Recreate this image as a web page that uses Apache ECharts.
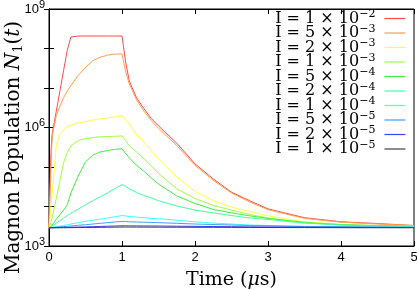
<!DOCTYPE html>
<html><head><meta charset="utf-8">
<script src="https://cdn.jsdelivr.net/npm/echarts@6/dist/echarts.min.js"></script>
<style>html,body{margin:0;padding:0;background:#fff}#c{width:417px;height:290px}</style>
</head><body><div id="c"></div><script>
const times = [0, 0.01, 0.02, 0.03, 0.04, 0.05, 0.1, 0.15, 0.2, 0.25, 0.3, 0.4, 0.5, 0.6, 0.7, 0.8, 0.9, 1.0, 1.05, 1.1, 1.2, 1.3, 1.4, 1.5, 1.75, 2.0, 2.25, 2.5, 2.75, 3.0, 3.5, 4.0, 4.5, 5.0];

const legendMantissa = [1, 5, 2, 1, 5, 2, 1, 5, 2, 1];
const legendExponent = ['−2', '−3', '−3', '−3', '−4', '−4', '−4', '−5', '−5', '−5'];
const colors = ['#ff4a4a', '#ffa04a', '#ffff40', '#a0ff40', '#40f040', '#40ffa0', '#40ffff', '#40a0ff', '#4040ff', '#404040'];

const popI1e2 = [2900, 2e4, 1e5, 3e5, 6e5, 8e5, 2.6e6, 8.5e6, 2.8e7, 9e7, 1.95e8, 2.07e8, 2.07e8, 2.07e8, 2.07e8, 2.07e8, 2.07e8, 2.07e8, 4.5e7, 1.5e7, 5.6e6, 3e6, 1.7e6, 1.1e6, 4e5, 1.2e5, 5e4, 2.3e4, 1.4e4, 8.7e3, 5.2e3, 4.1e3, 3.7e3, 3.3e3];
const popI5e3 = [2900, 1e4, 4e4, 1.5e5, 4e5, 7e5, 2e6, 3.5e6, 5.7e6, 8.3e6, 1.15e7, 2.1e7, 3.3e7, 4.9e7, 6e7, 6.8e7, 7.2e7, 7.3e7, 2.6e7, 1.26e7, 5e6, 2.6e6, 1.5e6, 9.5e5, 3.5e5, 1.1e5, 4.6e4, 2.2e4, 1.3e4, 8.3e3, 5e3, 4e3, 3.6e3, 3.3e3];
const popI2e3 = [2900, 4.5e3, 7e3, 1.1e4, 1.8e4, 2.8e4, 3.5e5, 6.8e5, 8.8e5, 1.05e6, 1.15e6, 1.3e6, 1.4e6, 1.55e6, 1.65e6, 1.75e6, 1.85e6, 2e6, 1.55e6, 1.2e6, 6.6e5, 4.3e5, 2.6e5, 1.6e5, 5.6e4, 2.4e4, 1.4e4, 9.6e3, 7.4e3, 5.8e3, 4.1e3, 3.5e3, 3.3e3, 3.2e3];
const popI1e3 = [2900, 3.2e3, 3.6e3, 4.2e3, 5e3, 6e3, 1.6e4, 4.5e4, 1.3e5, 2.3e5, 3.4e5, 4.7e5, 5.2e5, 5.6e5, 5.8e5, 5.9e5, 6e5, 6.1e5, 4.6e5, 3.4e5, 2.4e5, 1.6e5, 1.07e5, 6.9e4, 2.8e4, 1.6e4, 1.06e4, 8.1e3, 6.3e3, 5.1e3, 4e3, 3.5e3, 3.3e3, 3.2e3];
const popI5e4 = [2900, 2950, 3000, 3100, 3200, 3300, 4.8e3, 6.2e3, 8.1e3, 1.1e4, 2.2e4, 5.9e4, 1.35e5, 2e5, 2.4e5, 2.6e5, 2.8e5, 2.9e5, 2.2e5, 1.7e5, 1.1e5, 7.8e4, 5.3e4, 3.7e4, 1.85e4, 1.2e4, 8.4e3, 6.9e3, 5.8e3, 5e3, 3.9e3, 3.45e3, 3.25e3, 3.15e3];
const popI2e4 = [2900, 2950, 3000, 3100, 3200, 3300, 3.8e3, 4.4e3, 5.1e3, 5.9e3, 6.7e3, 8.6e3, 1.1e4, 1.4e4, 1.75e4, 2.2e4, 2.8e4, 3.6e4, 3.2e4, 2.8e4, 2.25e4, 1.9e4, 1.65e4, 1.4e4, 1.03e4, 8.1e3, 6.9e3, 5.9e3, 5.1e3, 4.7e3, 3.8e3, 3.4e3, 3.2e3, 3.1e3];
const popI1e4 = [2900, 2910, 2920, 2930, 2950, 2960, 3.1e3, 3.2e3, 3.3e3, 3.45e3, 3.6e3, 3.9e3, 4.2e3, 4.5e3, 4.8e3, 5.1e3, 5.5e3, 5.9e3, 5.75e3, 5.6e3, 5.4e3, 5.2e3, 5e3, 4.9e3, 4.5e3, 4.1e3, 3.8e3, 3.6e3, 3.4e3, 3.3e3, 3.15e3, 3.1e3, 3e3, 3e3];
const popI5e5 = [2900, 2905, 2910, 2920, 2925, 2930, 3e3, 3.05e3, 3.1e3, 3.15e3, 3.2e3, 3.35e3, 3.45e3, 3.6e3, 3.75e3, 3.9e3, 4.05e3, 4.2e3, 4.15e3, 4.1e3, 4.05e3, 4e3, 3.95e3, 3.9e3, 3.75e3, 3.6e3, 3.5e3, 3.4e3, 3.3e3, 3.25e3, 3.1e3, 3.05e3, 3e3, 2.95e3];
const popI2e5 = [2900, 2902, 2905, 2908, 2910, 2912, 2925, 2940, 2955, 2970, 2985, 3015, 3050, 3090, 3130, 3170, 3210, 3250, 3245, 3240, 3230, 3220, 3210, 3200, 3170, 3140, 3110, 3080, 3050, 3030, 3000, 2980, 2960, 2950];
const popI1e5 = [2880, 2881, 2882, 2884, 2885, 2886, 2892, 2898, 2904, 2910, 2916, 2928, 2940, 2955, 2970, 2985, 3000, 3020, 3018, 3016, 3012, 3008, 3004, 3000, 2990, 2980, 2970, 2960, 2950, 2940, 2925, 2910, 2900, 2895];

const allSeries = [popI1e2, popI5e3, popI2e3, popI1e3, popI5e4, popI2e4, popI1e4, popI5e5, popI2e5, popI1e5];

const xTickLabels = [0, 1, 2, 3, 4, 5];
const yTickExponents = [3, 4, 5, 6, 7, 8, 9];
const yLabelExponents = [3, 6, 9];

const names = legendMantissa.map((m, i) => 'I = ' + m + ' × 10^' + legendExponent[i]);

const chart = echarts.init(document.getElementById('c'), null, { renderer: 'canvas' });

const yFmt = (v) => {
  const e = Math.round(Math.log10(v));
  return yLabelExponents.includes(e) ? '{b|10}{s|' + e + '}' : '';
};
const yRich = {
  b: { fontFamily: 'Liberation Sans', fontSize: 13, lineHeight: 20, color: '#000' },
  s: { fontFamily: 'Liberation Sans', fontSize: 11, lineHeight: 11, verticalAlign: 'top', color: '#000' }
};

chart.setOption({
  animation: false,
  backgroundColor: '#fff',
  grid: { left: 49, right: 3, top: 9, bottom: 44, containLabel: false, outerBoundsMode: 'none', show: true, borderColor: '#000', borderWidth: 1, backgroundColor: 'transparent' },
  legend: {
    orient: 'vertical', right: 11, top: 9, padding: 0, itemGap: -3.0,
    itemWidth: 21, itemHeight: 19, align: 'right', selectedMode: false,
    data: names,
    itemStyle: { opacity: 0 },
    lineStyle: { width: 1.2 },
    formatter: (name) => {
      const parts = name.split('^');
      return '{b|' + parts[0] + '}{s|' + parts[1] + '}';
    },
    textStyle: {
      color: '#000',
      rich: {
        b: { fontFamily: 'DejaVu Serif', fontSize: 16, lineHeight: 19, color: '#000' },
        s: { fontFamily: 'DejaVu Serif', fontSize: 11, lineHeight: 11, verticalAlign: 'top', color: '#000', padding: [0, 4, 0, 0] }
      }
    }
  },
  xAxis: [{
    type: 'value', min: xTickLabels[0], max: xTickLabels[xTickLabels.length - 1], interval: 1,
    position: 'bottom',
    axisLine: { show: true, lineStyle: { color: '#000', width: 1 } },
    axisTick: { show: true, inside: true, length: 5, lineStyle: { color: '#000' } },
    splitLine: { show: false },
    axisLabel: { show: true, margin: 5, color: '#000', fontFamily: 'Liberation Sans', fontSize: 13 },
    name: '{r|Time (}{i|μ}{r|s)}',
    nameLocation: 'middle', nameGap: 23, nameMoveOverlap: false,
    nameTextStyle: {
      rich: {
        r: { fontFamily: 'DejaVu Serif', fontSize: 19, lineHeight: 22, color: '#000' },
        i: { fontFamily: 'DejaVu Serif', fontStyle: 'italic', fontSize: 19, lineHeight: 22, color: '#000' }
      }
    }
  }, {
    type: 'value', min: xTickLabels[0], max: xTickLabels[xTickLabels.length - 1], interval: 1,
    position: 'top',
    axisLine: { show: true, lineStyle: { color: '#000', width: 1 } },
    axisTick: { show: true, inside: true, length: 5, lineStyle: { color: '#000' } },
    splitLine: { show: false },
    axisLabel: { show: false }
  }],
  yAxis: [{
    type: 'log', logBase: 10, min: Math.pow(10, yTickExponents[0]), max: Math.pow(10, yTickExponents[yTickExponents.length - 1]), interval: 1,
    position: 'left',
    axisLine: { show: true, lineStyle: { color: '#000', width: 1 } },
    axisTick: { show: true, inside: true, length: 5, lineStyle: { color: '#000' } },
    minorTick: { show: false },
    splitLine: { show: false },
    axisLabel: { show: true, margin: 4, formatter: yFmt, rich: yRich, showMinLabel: true, showMaxLabel: true, hideOverlap: false },
    name: '{r|Magnon Population }{i|N}{sub|1}{r|(}{i|t}{r|)}',
    nameLocation: 'middle', nameGap: 24, nameMoveOverlap: false,
    nameTextStyle: {
      padding: [0, 40, 0, 0],
      rich: {
        r: { fontFamily: 'DejaVu Serif', fontSize: 20, lineHeight: 22, color: '#000' },
        i: { fontFamily: 'DejaVu Serif', fontStyle: 'italic', fontSize: 20, lineHeight: 22, color: '#000' },
        sub: { fontFamily: 'DejaVu Serif', fontSize: 13, lineHeight: 13, verticalAlign: 'bottom', color: '#000' }
      }
    }
  }, {
    type: 'log', logBase: 10, min: Math.pow(10, yTickExponents[0]), max: Math.pow(10, yTickExponents[yTickExponents.length - 1]), interval: 1,
    position: 'right',
    axisLine: { show: true, lineStyle: { color: '#000', width: 1 } },
    axisTick: { show: true, inside: true, length: 5, lineStyle: { color: '#000' } },
    minorTick: { show: false },
    splitLine: { show: false },
    axisLabel: { show: false }
  }],
  series: allSeries.map((vals, i) => ({
    name: names[i],
    type: 'line',
    xAxisIndex: 0, yAxisIndex: 0,
    symbol: 'none',
    smooth: false,
    data: times.map((t, k) => [t, vals[k]]),
    lineStyle: { width: 1, color: colors[i] },
    itemStyle: { color: colors[i] },
    emphasis: { disabled: true }
  }))
});
</script></body></html>
